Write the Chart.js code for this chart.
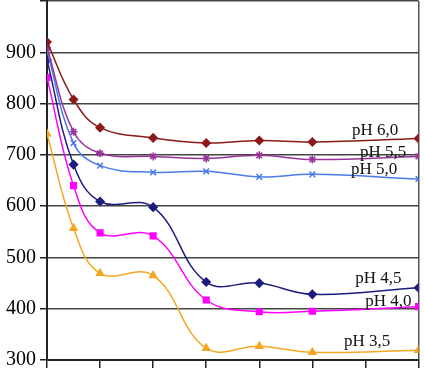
<!DOCTYPE html>
<html>
<head>
<meta charset="utf-8">
<script src="https://cdn.jsdelivr.net/npm/chart.js@4/dist/chart.umd.min.js"></script>
<style>
  html, body { margin: 0; padding: 0; background: #fff; }
  #clip { width: 424px; height: 368px; overflow: hidden; position: relative; }
  #wrap { width: 424px; height: 391px; position: absolute; left: 0; top: -15px; }
</style>
</head>
<body>
<div id="clip"><div id="wrap"><canvas id="myChart"></canvas></div></div>
<script>
// time points (x) and values per series
var times = [0, 0.5, 1, 2, 3, 4, 5, 7];
var ph60 = [920, 808, 753, 733, 723, 728, 725, 732];
var ph55 = [909, 745, 703, 697, 693, 699, 691, 697];
var ph50 = [903, 723, 679, 666, 668, 657, 662, 653];
var ph45 = [885, 681, 609, 598, 452, 450, 428, 441];
var ph40 = [851, 640, 548, 542, 417, 394, 395, 404];
var ph35 = [741, 557, 469, 465, 323, 327, 315, 319];
var seriesNames = ['pH 6,0', 'pH 5,5', 'pH 5,0', 'pH 4,5', 'pH 4,0', 'pH 3,5'];
var yTicks = [300, 400, 500, 600, 700, 800, 900, 1000];

function pts(arr) {
    return arr.map(function (v, i) { return { x: times[i], y: v }; });
}

function series(name, arr, color, style, size) {
    return {
        label: name,
        data: pts(arr),
        borderColor: color,
        backgroundColor: color,
        borderWidth: 1.5,
        pointStyle: style,
        pointRadius: size,
        pointBorderWidth: 1.5,
        tension: 0.4,
        fill: false
    };
}

// where each series name is written (x, y in data units, right aligned)
var labelSpots = [[6.62, 738], [6.77, 695], [6.6, 662], [6.68, 450], [6.87, 405], [6.47, 327]];

var seriesLabels = {
    id: 'seriesLabels',
    afterDatasetsDraw: function (chart) {
        var c = chart.ctx, xs = chart.scales.x, ys = chart.scales.y;
        c.save();
        c.font = '17px "Liberation Serif"';
        c.fillStyle = '#111';
        c.textAlign = 'right';
        c.textBaseline = 'alphabetic';
        seriesNames.forEach(function (n, i) {
            c.fillText(n, xs.getPixelForValue(labelSpots[i][0]), ys.getPixelForValue(labelSpots[i][1]));
        });
        c.restore();
    }
};

var ctx = document.getElementById('myChart').getContext('2d');
var myChart = new Chart(ctx, {
    type: 'line',
    data: {
        datasets: [
            series(seriesNames[0], ph60, '#8B1A1A', 'rectRot', 4),
            series(seriesNames[1], ph55, '#993399', 'star', 4),
            series(seriesNames[2], ph50, '#4A7BE8', 'crossRot', 4),
            series(seriesNames[3], ph45, '#1C1C80', 'rectRot', 4),
            series(seriesNames[4], ph40, '#FF00FF', 'rect', 4),
            series(seriesNames[5], ph35, '#F5A623', 'triangle', 4)
        ]
    },
    options: {
        responsive: true,
        maintainAspectRatio: false,
        animation: false,
        layout: { padding: { top: 0, right: 4, bottom: 0, left: 0 } },
        plugins: {
            legend: { display: false },
            tooltip: { enabled: false }
        },
        scales: {
            x: {
                type: 'linear',
                min: 0,
                max: 7,
                ticks: { stepSize: 1, display: false },
                grid: {
                    color: function (c) { return c.tick && c.tick.value === 7 ? '#555' : 'transparent'; },
                    tickColor: '#222',
                    tickLength: 8,
                    lineWidth: 1.5
                },
                border: { color: '#222', width: 2 },
                afterFit: function (s) { s.height = 8; }
            },
            y: {
                min: 300,
                max: 1000,
                afterBuildTicks: function (s) { s.ticks = yTicks.map(function (v) { return { value: v }; }); },
                ticks: {
                    color: '#000',
                    font: { family: 'Liberation Serif', size: 20 },
                    padding: 4,
                    callback: function (v) { return v === 1000 ? '' : v; }
                },
                grid: { color: '#444', lineWidth: 1.5, tickLength: 7, tickColor: '#222' },
                border: { color: '#222', width: 2 },
                afterFit: function (s) { s.width = 47; }
            }
        }
    },
    plugins: [seriesLabels]
});
</script>
</body>
</html>
